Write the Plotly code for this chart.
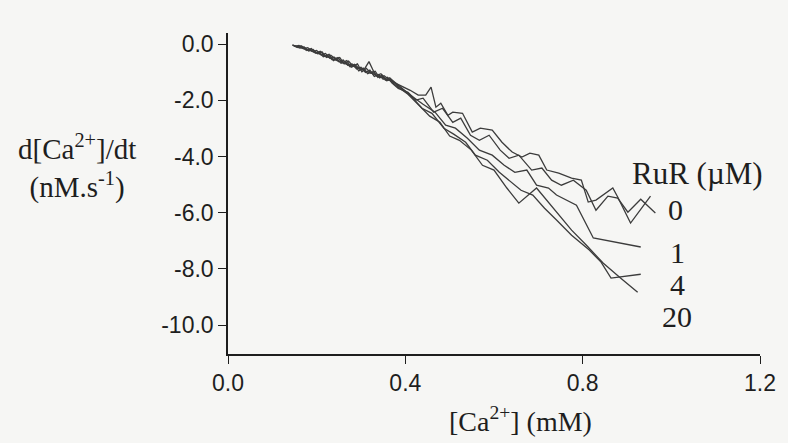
import plotly.graph_objects as go

# Rate of Ca2+ change versus free [Ca2+] for several ruthenium red doses
ca_0a = [0.145, 0.155, 0.165, 0.175, 0.185, 0.195, 0.205, 0.215, 0.225, 0.235, 0.245, 0.255,
         0.265, 0.275, 0.285, 0.295, 0.305, 0.315, 0.325, 0.335, 0.345, 0.355, 0.365,
         0.373, 0.411, 0.429, 0.446, 0.458, 0.469, 0.480, 0.496, 0.507, 0.529, 0.551, 0.569,
         0.596, 0.618, 0.641, 0.663, 0.681, 0.701, 0.719, 0.746, 0.775, 0.797, 0.8125, 0.830,
         0.868, 0.879, 0.908, 0.953]
rate_0a = [-0.02, -0.10, -0.05, -0.20, -0.18, -0.30, -0.28, -0.45, -0.40, -0.55, -0.50, -0.68,
           -0.62, -0.80, -0.72, -0.95, -0.85, -1.05, -0.98, -1.12, -1.05, -1.28, -1.20,
           -1.35, -1.64, -1.81, -1.81, -1.53, -2.24, -2.10, -2.53, -2.42, -2.46, -3.13, -2.99,
           -3.06, -3.49, -3.84, -4.02, -3.88, -3.95, -4.48, -4.59, -4.77, -4.84, -5.62, -5.55,
           -5.12, -5.44, -6.37, -5.41]

ca_0b = [0.150, 0.160, 0.170, 0.180, 0.190, 0.200, 0.210, 0.220, 0.230, 0.240, 0.250, 0.260,
         0.270, 0.280, 0.290, 0.300, 0.310, 0.320, 0.330, 0.340, 0.350, 0.360, 0.370,
         0.384, 0.406, 0.424, 0.440, 0.464, 0.484, 0.507, 0.525, 0.547, 0.567, 0.589, 0.614,
         0.634, 0.656, 0.685, 0.708, 0.730, 0.752, 0.779, 0.808, 0.830, 0.857, 0.879, 0.902,
         0.931, 0.964]
rate_0b = [-0.08, -0.04, -0.16, -0.12, -0.26, -0.22, -0.38, -0.33, -0.50, -0.46, -0.62, -0.56,
           -0.75, -0.70, -0.88, -0.82, -1.00, -0.92, -1.15, -1.08, -1.25, -1.18, -1.38,
           -1.57, -1.71, -1.99, -1.92, -2.42, -2.28, -2.78, -2.63, -3.24, -3.42, -3.24, -3.77,
           -4.06, -3.95, -4.48, -4.41, -4.84, -5.02, -4.84, -5.20, -5.91, -5.41, -5.48, -5.98,
           -5.52, -6.01]

ca_1 = [0.148, 0.158, 0.168, 0.178, 0.188, 0.198, 0.208, 0.218, 0.228, 0.238, 0.248, 0.258,
        0.268, 0.278, 0.288, 0.298, 0.308, 0.318, 0.328, 0.338, 0.348, 0.358, 0.368,
        0.384, 0.411, 0.440, 0.467, 0.491, 0.513, 0.540, 0.567, 0.596, 0.623, 0.647, 0.674,
        0.696, 0.723, 0.741, 0.786, 0.824, 0.875, 0.931]
rate_1 = [-0.05, -0.12, -0.08, -0.22, -0.15, -0.32, -0.25, -0.42, -0.36, -0.58, -0.48, -0.65,
          -0.58, -0.82, -0.75, -0.90, -0.88, -0.62, -0.95, -1.18, -1.10, -1.30, -1.25,
          -1.46, -1.81, -2.14, -2.42, -2.88, -2.99, -3.35, -3.77, -3.95, -4.31, -4.56, -4.48,
          -5.02, -5.12, -5.37, -5.73, -6.90, -7.05, -7.22]

ca_4 = [0.152, 0.162, 0.172, 0.182, 0.192, 0.202, 0.212, 0.222, 0.232, 0.242, 0.252, 0.262,
        0.272, 0.282, 0.292, 0.302, 0.312, 0.322, 0.332, 0.342, 0.352, 0.362, 0.372,
        0.384, 0.413, 0.4375, 0.460, 0.487, 0.509, 0.536, 0.558, 0.585, 0.612, 0.634, 0.661,
        0.6875, 0.714, 0.741, 0.775, 0.815, 0.8415, 0.864, 0.931]
rate_4 = [-0.06, -0.14, -0.10, -0.24, -0.19, -0.34, -0.27, -0.47, -0.39, -0.52, -0.47, -0.70,
          -0.60, -0.78, -0.70, -0.98, -0.86, -1.02, -0.96, -1.20, -1.12, -1.24, -1.32,
          -1.49, -1.85, -2.28, -2.46, -2.99, -3.20, -3.49, -3.95, -4.13, -4.56, -4.84, -5.20,
          -5.37, -5.84, -6.26, -6.80, -7.33, -7.76, -8.33, -8.19]

ca_20 = [0.146, 0.156, 0.166, 0.176, 0.186, 0.196, 0.206, 0.216, 0.226, 0.236, 0.246, 0.256,
         0.266, 0.276, 0.286, 0.296, 0.306, 0.316, 0.326, 0.336, 0.346, 0.356, 0.366,
         0.384, 0.406, 0.433, 0.455, 0.478, 0.500, 0.522, 0.549, 0.574, 0.600, 0.629, 0.656,
         0.696, 0.719, 0.746, 0.775, 0.808, 0.846, 0.886, 0.924]
rate_20 = [-0.03, -0.09, -0.13, -0.17, -0.23, -0.27, -0.35, -0.39, -0.46, -0.52, -0.57, -0.63,
           -0.69, -0.76, -0.80, -0.87, -0.93, -0.99, -1.05, -1.13, -1.17, -1.24, -1.30,
           -1.53, -1.78, -2.21, -2.56, -2.78, -3.27, -3.42, -3.77, -4.31, -4.48, -5.12, -5.66,
           -5.12, -5.55, -6.09, -6.62, -7.15, -7.79, -8.33, -8.83]

x_ticks = [0.0, 0.4, 0.8, 1.2]
x_tick_text = ["0.0", "0.4", "0.8", "1.2"]
y_ticks = [0.0, -2.0, -4.0, -6.0, -8.0, -10.0]
y_tick_text = ["0.0", "-2.0", "-4.0", "-6.0", "-8.0", "-10.0"]

dose_labels = ["0", "1", "4", "20"]
dose_label_x = [1.009, 1.013, 1.013, 1.013]
dose_label_y = [-5.87, -7.40, -8.54, -9.68]

series = [(ca_0a, rate_0a), (ca_0b, rate_0b), (ca_1, rate_1), (ca_4, rate_4), (ca_20, rate_20)]

fig = go.Figure()
for xs, ys in series:
    fig.add_trace(go.Scatter(x=xs, y=ys, mode="lines",
                             line=dict(color="#3c3c3c", width=1.3),
                             showlegend=False, hoverinfo="skip"))

serif = "Liberation Serif"
sans = "Liberation Sans"
ink = "#1e1e1e"

annotations = [
    dict(x=1.058, y=-4.59, xref="x", yref="y", text="RuR (µM)", showarrow=False,
         xanchor="center", yanchor="middle",
         font=dict(family=serif, size=31, color=ink)),
    dict(x=-0.284, y=0.583, xref="paper", yref="paper",
         text="d[Ca<sup>2+</sup>]/dt<br>(nM.s<sup>-1</sup>)", showarrow=False,
         xanchor="center", yanchor="middle",
         font=dict(family=serif, size=29, color=ink), align="center"),
    dict(x=0.66, y=-0.205, xref="x", yref="paper",
         text="[Ca<sup>2+</sup>] (mM)", showarrow=False,
         xanchor="center", yanchor="middle",
         font=dict(family=serif, size=28, color=ink)),
]
for lab, lx, ly in zip(dose_labels, dose_label_x, dose_label_y):
    annotations.append(dict(x=lx, y=ly, xref="x", yref="y", text=lab, showarrow=False,
                            xanchor="center", yanchor="middle",
                            font=dict(family=serif, size=30, color=ink)))

fig.update_layout(
    width=788, height=443,
    margin=dict(l=228, r=22, t=33, b=89),
    paper_bgcolor="#f6f6f4", plot_bgcolor="#f6f6f4",
    annotations=annotations,
    xaxis=dict(range=[0, 1.2], tickvals=x_ticks, ticktext=x_tick_text,
               showgrid=False, zeroline=False, showline=True, linecolor=ink,
               linewidth=1.5, ticks="outside", ticklen=8, tickwidth=1.3, tickcolor=ink,
               tickfont=dict(family=sans, size=23, color=ink)),
    yaxis=dict(range=[-11.03, 0.4], tickvals=y_ticks, ticktext=y_tick_text,
               showgrid=False, zeroline=False, showline=True, linecolor=ink,
               linewidth=1.5, ticks="outside", ticklen=8, tickwidth=1.3, tickcolor=ink,
               tickfont=dict(family=sans, size=23, color=ink)),
)

fig.write_html("out.html")
